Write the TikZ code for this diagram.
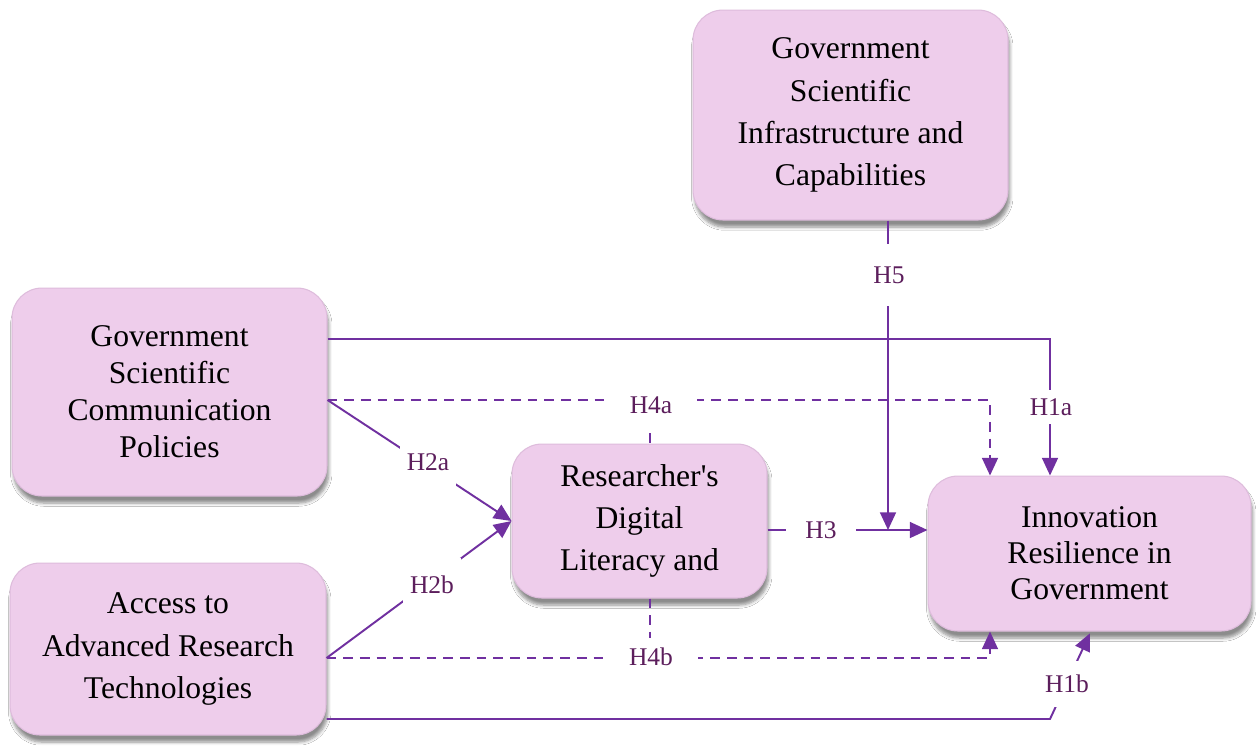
\documentclass[tikz,border=0pt]{standalone}
\usepackage{fontspec}
\setmainfont{Liberation Serif}
\usetikzlibrary{arrows.meta,shadows.blur,calc}
\definecolor{boxfill}{RGB}{238,205,235}
\definecolor{boxedge}{RGB}{222,188,220}
\definecolor{conn}{RGB}{112,48,160}
\definecolor{lbl}{RGB}{92,30,92}
\begin{document}
\begin{tikzpicture}[x=0.02cm,y=-0.02cm,
  box/.style={draw=boxedge, line width=0.6pt, fill=boxfill, rounded corners=0.6cm,
    inner sep=0pt, align=center, text=black,
    blur shadow={shadow xshift=1pt, shadow yshift=-4pt, shadow blur steps=6, shadow opacity=45}},
  conline/.style={draw=conn, line width=1.1pt},
  dashline/.style={conline, dash pattern=on 5.5pt off 4pt},
  tip/.style={-{Triangle[length=10pt,width=9pt]}},
  hlabel/.style={fill=white, text=lbl, font=\fontsize{14.5}{16}\selectfont, inner xsep=6pt, inner ysep=6pt}
]
\useasboundingbox (0,0) rectangle (1256,745);
\fill[white] (0,0) rectangle (1256,745);

% boxes
\node[box, minimum width=6.3cm, minimum height=4.2cm,
  font=\fontsize{18}{24}\selectfont] (infra) at (850.5,115)
  {Government\\Scientific\\Infrastructure and\\Capabilities};
\node[box, minimum width=6.3cm, minimum height=4.16cm,
  font=\fontsize{18}{21}\selectfont] (gscp) at (169.5,392)
  {Government\\Scientific\\Communication\\Policies};
\node[box, minimum width=6.32cm, minimum height=3.44cm,
  font=\fontsize{18}{24}\selectfont] (acc) at (168,649)
  {Access to\\Advanced Research\\Technologies};
\node[box, minimum width=5.1cm, minimum height=3.08cm,
  font=\fontsize{18}{24}\selectfont] (rd) at (639.5,521)
  {Researcher\textquotesingle s\\Digital\\Literacy and};
\node[box, minimum width=6.46cm, minimum height=3.1cm,
  font=\fontsize{18}{20.5}\selectfont] (inn) at (1089.5,553.5)
  {Innovation\\Resilience in\\Government};

% bend coordinates
\coordinate (j1a) at (1050,339);
\coordinate (j4a) at (990,400);
\coordinate (m4a) at (650,400);
\coordinate (j4b) at (990,658);
\coordinate (m4b) at (650,658);
\coordinate (j1b) at (1050,719);
\coordinate (t1b) at (1090,0);
\coordinate (j3) at (888,530);

% connectors
\draw[conline, tip] (gscp.east |- j1a) -- (j1a) -- (j1a |- inn.north);
\draw[dashline, tip] (gscp.east |- j4a) -- (j4a) -- (j4a |- inn.north);
\draw[dashline] (m4a) -- (m4a |- rd.north);
\draw[dashline, tip] (acc.east |- j4b) -- (j4b) -- (j4b |- inn.south);
\draw[dashline] (rd.south -| m4b) -- (m4b);
\draw[conline, tip] (acc.east |- j1b) -- (j1b) -- ([yshift=-1pt]inn.south -| t1b);
\draw[conline, tip] (gscp.east |- j4a) -- (rd.west);
\draw[conline, tip] (acc.east |- j4b) -- (rd.west);
\draw[conline, tip] (rd.east |- j3) -- (inn.west |- j3);
\draw[conline, tip] (infra.south -| j3) -- (j3);

% labels
\node[hlabel, inner xsep=4pt, inner ysep=5pt] (h1a) at (1051,407) {H1a};
\node[hlabel, inner xsep=14pt, inner ysep=8pt] (h4a) at (651,405) {H4a};
\node[hlabel, inner xsep=14pt, inner ysep=6pt] (h4b) at (651,657) {H4b};
\node[hlabel, inner xsep=6pt, inner ysep=8pt] (h1b) at (1067,684) {H1b};
\node[hlabel, inner xsep=4pt, inner ysep=10pt] (h2a) at (428,462) {H2a};
\node[hlabel, inner xsep=4pt, inner ysep=10pt] (h2b) at (432,585) {H2b};
\node[hlabel, inner xsep=11pt, inner ysep=4pt] (h3) at (821,530) {H3};
\node[hlabel, inner xsep=4pt, inner ysep=13pt] (h5) at (889,275) {H5};
\end{tikzpicture}
\end{document}
